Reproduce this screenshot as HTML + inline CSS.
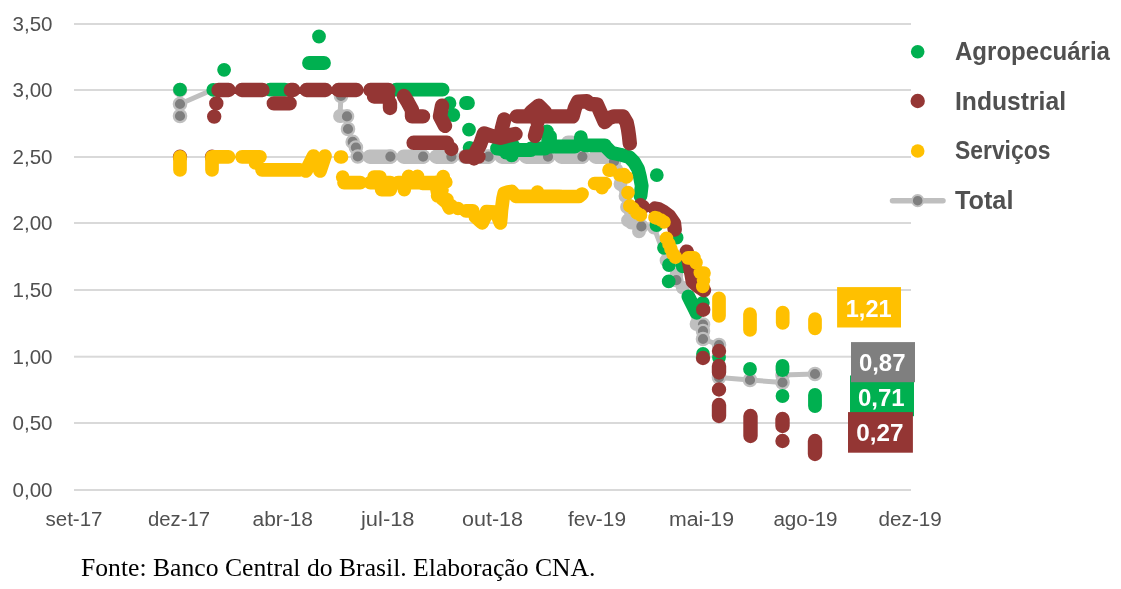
<!DOCTYPE html>
<html lang="pt"><head><meta charset="utf-8"><title>Gráfico</title>
<style>html,body{margin:0;padding:0;background:#fff}svg{display:block}</style></head>
<body><svg width="1121" height="589" viewBox="0 0 1121 589">
<rect width="1121" height="589" fill="#fff"/>
<rect x="74" y="489.0" width="837" height="2" fill="#D9D9D9"/>
<rect x="74" y="422.0" width="837" height="2" fill="#D9D9D9"/>
<rect x="74" y="355.7" width="837" height="2" fill="#D9D9D9"/>
<rect x="74" y="289.0" width="837" height="2" fill="#D9D9D9"/>
<rect x="74" y="222.0" width="837" height="2" fill="#D9D9D9"/>
<rect x="74" y="156.0" width="837" height="2" fill="#D9D9D9"/>
<rect x="74" y="89.0" width="837" height="2" fill="#D9D9D9"/>
<rect x="74" y="23.0" width="837" height="2" fill="#D9D9D9"/>
<polyline points="180.0,90.0 180.0,116.0 180.0,104.0 212.0,90.0 341.0,90.0 341.0,96.0 340.0,116.0 347.0,116.0 348.0,129.0 352.7,141.9 355.9,147.5 357.8,156.5 610.0,156.7 614.0,161.5 618.0,184.0 623.5,195.0 628.0,220.4 631.4,222.6 641.4,226.4 654.0,227.7 666.5,260.4 676.4,275.0 676.4,280.2 682.7,287.7 696.0,324.0 703.0,324.5 703.0,339.0 719.0,345.0 719.0,377.5 750.0,380.0 782.5,382.5 782.5,375.0 815.0,374.0" fill="none" stroke="#BFBFBF" stroke-width="5" stroke-linecap="round" stroke-linejoin="round"/>
<path d="M369.8 156.7H390.4M403.7 156.7H423.1M436.4 156.7H451.4M464.7 156.7H488.5M501.8 156.7H513.0M526.3 156.7H548.0M561.3 156.7H582.4M595.7 156.7H610.0" fill="none" stroke="#BFBFBF" stroke-width="14.4" stroke-linecap="round" stroke-linejoin="round"/>
<path d="M568.0 142.5H572.0M340.0 116.0H341.0M616.5 170.0h0M620.5 184.0h0M625.5 196.0h0M627.0 207.0h0M628.0 220.4h0M631.4 222.6h0M639.0 231.4h0M654.0 227.7h0M666.5 260.4h0M676.4 275.0h0M682.7 287.7h0M696.5 324.0h0" fill="none" stroke="#BFBFBF" stroke-width="13.8" stroke-linecap="round" stroke-linejoin="round"/>
<circle cx="180.0" cy="90.0" r="6.2" fill="#7F7F7F" stroke="#BFBFBF" stroke-width="2.2"/>
<circle cx="180.0" cy="116.0" r="6.2" fill="#7F7F7F" stroke="#BFBFBF" stroke-width="2.2"/>
<circle cx="180.0" cy="104.0" r="6.2" fill="#7F7F7F" stroke="#BFBFBF" stroke-width="2.2"/>
<circle cx="341.0" cy="96.0" r="6.2" fill="#7F7F7F" stroke="#BFBFBF" stroke-width="2.2"/>
<circle cx="347.0" cy="116.4" r="6.2" fill="#7F7F7F" stroke="#BFBFBF" stroke-width="2.2"/>
<circle cx="348.0" cy="129.0" r="6.2" fill="#7F7F7F" stroke="#BFBFBF" stroke-width="2.2"/>
<circle cx="352.7" cy="141.9" r="6.2" fill="#7F7F7F" stroke="#BFBFBF" stroke-width="2.2"/>
<circle cx="355.9" cy="147.5" r="6.2" fill="#7F7F7F" stroke="#BFBFBF" stroke-width="2.2"/>
<circle cx="357.8" cy="156.5" r="6.2" fill="#7F7F7F" stroke="#BFBFBF" stroke-width="2.2"/>
<circle cx="390.4" cy="156.6" r="6.2" fill="#7F7F7F" stroke="#BFBFBF" stroke-width="2.2"/>
<circle cx="423.1" cy="156.6" r="6.2" fill="#7F7F7F" stroke="#BFBFBF" stroke-width="2.2"/>
<circle cx="451.4" cy="156.6" r="6.2" fill="#7F7F7F" stroke="#BFBFBF" stroke-width="2.2"/>
<circle cx="488.5" cy="156.6" r="6.2" fill="#7F7F7F" stroke="#BFBFBF" stroke-width="2.2"/>
<circle cx="513.0" cy="156.6" r="6.2" fill="#7F7F7F" stroke="#BFBFBF" stroke-width="2.2"/>
<circle cx="548.0" cy="156.6" r="6.2" fill="#7F7F7F" stroke="#BFBFBF" stroke-width="2.2"/>
<circle cx="582.4" cy="156.6" r="6.2" fill="#7F7F7F" stroke="#BFBFBF" stroke-width="2.2"/>
<circle cx="614.0" cy="161.5" r="6.2" fill="#7F7F7F" stroke="#BFBFBF" stroke-width="2.2"/>
<circle cx="641.4" cy="226.4" r="6.2" fill="#7F7F7F" stroke="#BFBFBF" stroke-width="2.2"/>
<circle cx="676.4" cy="280.2" r="6.2" fill="#7F7F7F" stroke="#BFBFBF" stroke-width="2.2"/>
<circle cx="703.0" cy="324.5" r="6.2" fill="#7F7F7F" stroke="#BFBFBF" stroke-width="2.2"/>
<circle cx="703.0" cy="331.0" r="6.2" fill="#7F7F7F" stroke="#BFBFBF" stroke-width="2.2"/>
<circle cx="703.0" cy="339.0" r="6.2" fill="#7F7F7F" stroke="#BFBFBF" stroke-width="2.2"/>
<circle cx="719.0" cy="345.0" r="6.2" fill="#7F7F7F" stroke="#BFBFBF" stroke-width="2.2"/>
<circle cx="719.0" cy="377.5" r="6.2" fill="#7F7F7F" stroke="#BFBFBF" stroke-width="2.2"/>
<circle cx="750.0" cy="380.0" r="6.2" fill="#7F7F7F" stroke="#BFBFBF" stroke-width="2.2"/>
<circle cx="782.5" cy="375.0" r="6.2" fill="#7F7F7F" stroke="#BFBFBF" stroke-width="2.2"/>
<circle cx="782.5" cy="382.5" r="6.2" fill="#7F7F7F" stroke="#BFBFBF" stroke-width="2.2"/>
<circle cx="815.0" cy="374.0" r="6.2" fill="#7F7F7F" stroke="#BFBFBF" stroke-width="2.2"/>
<path d="M180.0 89.7h0M213.3 89.9h0M224.1 69.8h0M319.0 36.5h0M270.0 89.7H285.0M309.0 63.0H324.0M396.0 89.7H442.6M449.5 103.2h0M466.0 103.0H468.0M453.3 115.0h0M469.0 129.6h0M469.6 147.8h0M497.0 148.5H503.0M500.4 149.0h0M506.0 152.5h0M511.7 155.4h0M513.0 145.3h0M518.0 150.0H531.0M531.0 148.5H545.0M547.0 131.5h0M548.2 139.0V146.5M550.0 146.5H575.0M550.0 136.5V145.3M580.8 137.1V144.0M585.0 145.3H605.0M605.0 146.0L611.6 152.8L620.4 154.7L629.2 157.2L634.0 162.0L638.0 168.9L640.0 177.0L641.7 185.8L640.5 195.9M656.8 175.1h0M656.5 225.0h0M676.6 237.7h0M664.0 247.8h0M669.0 265.0h0M682.7 266.3h0M668.7 281.4h0M688.4 296.5L691.5 302.8L696.6 312.8M702.8 302.8h0M699.0 307.0h0M703.0 354.0h0M719.0 357.5h0M750.0 369.0h0M782.5 366.0V370.0M782.5 396.0h0M815.0 395.0V406.0" fill="none" stroke="#00B050" stroke-width="13.8" stroke-linecap="round" stroke-linejoin="round"/>
<path d="M180.0 156.8h0M212.0 156.8h0M214.2 116.6h0M216.3 103.4h0M218.5 90.0H228.6M241.8 90.0H262.5M273.8 103.4H289.6M290.8 90.0H293.3M306.5 90.0H325.4M338.4 90.0H356.4M370.4 90.0H388.5M374.0 96.5H388.0M390.0 103.0V108.0M404.0 96.0L408.0 102.6L412.0 110.0L412.0 116.4L423.0 116.4M413.6 142.8H447.0M442.0 105.7L440.0 116.4L445.0 125.8M451.4 149.0h0M466.0 156.6H478.5M474.0 158.5h0M476.0 152.0L480.3 144.0L484.0 133.4L492.0 136.0L500.4 137.8M500.4 137.8L502.0 128.0L504.2 119.5M500.4 137.8L507.0 136.0L515.5 134.0M516.8 116.4H572.6M531.0 112.0L538.8 105.7L545.0 112.0M536.9 129.0L535.0 135.9M537.5 122.0h0M572.6 116.4L575.0 107.6L578.0 101.6L587.0 101.3L590.0 104.0L597.0 104.5L600.0 111.4L604.7 122.0L609.0 118.0L614.0 116.4L623.0 116.4L626.7 122.7L628.0 129.0L629.0 136.0L629.8 143.4M640.5 205.3h0M643.0 207.0h0M655.0 208.5L658.0 209.0L663.0 211.6L669.0 216.0L674.0 223.3L674.7 229.6M686.7 251.6L689.0 262.0L691.5 273.9L692.8 281.4L698.0 286.0L704.0 290.2M703.2 309.7h0M703.0 358.0h0M719.0 351.0h0M719.0 366.0V372.5M719.0 389.5h0M719.0 405.0V416.0M750.5 416.0V436.0M782.5 419.0V426.0M782.5 441.0h0M815.0 441.0V454.0" fill="none" stroke="#943634" stroke-width="14.4" stroke-linecap="round" stroke-linejoin="round"/>
<path d="M180.0 156.8V170.0M212.0 156.8V170.0M212.0 156.8H228.5M242.0 156.8H260.0M255.5 163.0h0M262.0 169.8H300.0M306.0 171.0L313.5 156.0M320.0 171.0L325.0 156.0M340.5 157.0H341.5M342.7 177.0h0M344.0 182.7H360.3M374.0 177.0H380.0M370.3 182.7H390.4M381.6 189.6H390.4M408.7 176.4h0M417.5 176.4h0M398.0 182.7H435.7M404.3 189.6h0M443.2 176.6h0M435.7 182.7L438.2 195.3L447.0 202.8L449.5 207.9M422.5 183.5H432.6M445.8 182.0h0M437.6 195.8h0M442.0 190.0h0M447.0 199.6h0M451.4 205.9h0M458.0 208.5h0M465.9 210.9H472.8M475.3 216.6L479.0 220.0L482.2 222.8L485.0 217.0L486.6 211.5L495.4 212.2L498.0 217.0L500.4 222.8L501.0 216.6L501.5 210.0L502.3 204.0L503.0 198.5L504.2 193.3L508.0 192.0L511.7 191.4L516.0 196.4M516.0 196.4H559.5M537.5 192.0h0M561.3 196.5H579.0M579.0 196.5L582.0 194.0M594.6 183.5H605.3M602.0 187.7h0M609.0 170.1H610.5M620.0 175.0h0M624.0 174.5h0M626.5 177.0h0M628.0 192.7h0M629.8 205.9h0M633.0 208.5h0M637.0 213.0h0M640.5 215.0h0M655.0 217.5h0M657.0 218.2h0M661.0 220.0h0M664.0 222.0h0M666.5 238.4h0M669.0 244.0h0M671.0 249.0h0M673.0 253.8h0M675.4 257.2h0M688.0 257.8H694.0M696.0 262.6h0M700.3 272.6h0M704.0 273.0h0M703.5 280.0h0M702.8 286.4h0M719.0 298.4V316.0M750.0 314.0V330.0M782.7 312.6V323.0M815.0 319.0V328.3" fill="none" stroke="#FFC000" stroke-width="13.7" stroke-linecap="round" stroke-linejoin="round"/>
<rect x="837.1" y="287.1" width="63.89999999999998" height="40.39999999999998" fill="#FFC000"/><text x="845.8" y="316.5" font-family="Liberation Sans, sans-serif" font-weight="bold" font-size="23.6" fill="#fff" textLength="45.700000000000045" lengthAdjust="spacingAndGlyphs">1,21</text>
<rect x="850" y="375.5" width="64" height="40.69999999999999" fill="#00B050"/><text x="858" y="405.7" font-family="Liberation Sans, sans-serif" font-weight="bold" font-size="23.6" fill="#fff" textLength="46.700000000000045" lengthAdjust="spacingAndGlyphs">0,71</text>
<rect x="851" y="342.1" width="64" height="40.099999999999966" fill="#7F7F7F"/><text x="858.9" y="370.8" font-family="Liberation Sans, sans-serif" font-weight="bold" font-size="23.6" fill="#fff" textLength="46.60000000000002" lengthAdjust="spacingAndGlyphs">0,87</text>
<rect x="848" y="412.1" width="64.89999999999998" height="40.599999999999966" fill="#943634"/><text x="856.3" y="441.3" font-family="Liberation Sans, sans-serif" font-weight="bold" font-size="23.6" fill="#fff" textLength="47.200000000000045" lengthAdjust="spacingAndGlyphs">0,27</text>
<text x="12.5" y="496.8" text-anchor="start" font-family="Liberation Sans, sans-serif" font-size="20.6" font-weight="normal" fill="#505050" textLength="40" lengthAdjust="spacingAndGlyphs">0,00</text>
<text x="12.5" y="429.8" text-anchor="start" font-family="Liberation Sans, sans-serif" font-size="20.6" font-weight="normal" fill="#505050" textLength="40" lengthAdjust="spacingAndGlyphs">0,50</text>
<text x="12.5" y="363.5" text-anchor="start" font-family="Liberation Sans, sans-serif" font-size="20.6" font-weight="normal" fill="#505050" textLength="40" lengthAdjust="spacingAndGlyphs">1,00</text>
<text x="12.5" y="296.8" text-anchor="start" font-family="Liberation Sans, sans-serif" font-size="20.6" font-weight="normal" fill="#505050" textLength="40" lengthAdjust="spacingAndGlyphs">1,50</text>
<text x="12.5" y="229.8" text-anchor="start" font-family="Liberation Sans, sans-serif" font-size="20.6" font-weight="normal" fill="#505050" textLength="40" lengthAdjust="spacingAndGlyphs">2,00</text>
<text x="12.5" y="163.8" text-anchor="start" font-family="Liberation Sans, sans-serif" font-size="20.6" font-weight="normal" fill="#505050" textLength="40" lengthAdjust="spacingAndGlyphs">2,50</text>
<text x="12.5" y="96.8" text-anchor="start" font-family="Liberation Sans, sans-serif" font-size="20.6" font-weight="normal" fill="#505050" textLength="40" lengthAdjust="spacingAndGlyphs">3,00</text>
<text x="12.5" y="30.8" text-anchor="start" font-family="Liberation Sans, sans-serif" font-size="20.6" font-weight="normal" fill="#505050" textLength="40" lengthAdjust="spacingAndGlyphs">3,50</text>
<text x="45.5" y="526" text-anchor="start" font-family="Liberation Sans, sans-serif" font-size="20" font-weight="normal" fill="#505050" textLength="57.0" lengthAdjust="spacingAndGlyphs">set-17</text>
<text x="148" y="526" text-anchor="start" font-family="Liberation Sans, sans-serif" font-size="20" font-weight="normal" fill="#505050" textLength="62.0" lengthAdjust="spacingAndGlyphs">dez-17</text>
<text x="252.5" y="526" text-anchor="start" font-family="Liberation Sans, sans-serif" font-size="20" font-weight="normal" fill="#505050" textLength="60.5" lengthAdjust="spacingAndGlyphs">abr-18</text>
<text x="361" y="526" text-anchor="start" font-family="Liberation Sans, sans-serif" font-size="20" font-weight="normal" fill="#505050" textLength="53.5" lengthAdjust="spacingAndGlyphs">jul-18</text>
<text x="462" y="526" text-anchor="start" font-family="Liberation Sans, sans-serif" font-size="20" font-weight="normal" fill="#505050" textLength="61.0" lengthAdjust="spacingAndGlyphs">out-18</text>
<text x="568" y="526" text-anchor="start" font-family="Liberation Sans, sans-serif" font-size="20" font-weight="normal" fill="#505050" textLength="58.0" lengthAdjust="spacingAndGlyphs">fev-19</text>
<text x="669" y="526" text-anchor="start" font-family="Liberation Sans, sans-serif" font-size="20" font-weight="normal" fill="#505050" textLength="65.0" lengthAdjust="spacingAndGlyphs">mai-19</text>
<text x="773.4" y="526" text-anchor="start" font-family="Liberation Sans, sans-serif" font-size="20" font-weight="normal" fill="#505050" textLength="64.2" lengthAdjust="spacingAndGlyphs">ago-19</text>
<text x="878.6" y="526" text-anchor="start" font-family="Liberation Sans, sans-serif" font-size="20" font-weight="normal" fill="#505050" textLength="63.2" lengthAdjust="spacingAndGlyphs">dez-19</text>
<circle cx="917.7" cy="51.8" r="6.8" fill="#00B050"/>
<circle cx="917.7" cy="101.0" r="7.2" fill="#943634"/>
<circle cx="917.7" cy="151.0" r="6.8" fill="#FFC000"/>
<line x1="892.5" y1="200.7" x2="943" y2="200.7" stroke="#BFBFBF" stroke-width="5.5" stroke-linecap="round"/>
<circle cx="917.7" cy="200.7" r="5.7" fill="#7F7F7F" stroke="#BFBFBF" stroke-width="1.8"/>
<text x="955" y="60.3" text-anchor="start" font-family="Liberation Sans, sans-serif" font-size="25" font-weight="bold" fill="#505050" textLength="155" lengthAdjust="spacingAndGlyphs">Agropecuária</text>
<text x="955" y="109.6" text-anchor="start" font-family="Liberation Sans, sans-serif" font-size="25" font-weight="bold" fill="#505050" textLength="111" lengthAdjust="spacingAndGlyphs">Industrial</text>
<text x="955" y="158.5" text-anchor="start" font-family="Liberation Sans, sans-serif" font-size="25" font-weight="bold" fill="#505050" textLength="95.4" lengthAdjust="spacingAndGlyphs">Serviços</text>
<text x="955" y="208.5" text-anchor="start" font-family="Liberation Sans, sans-serif" font-size="25" font-weight="bold" fill="#505050" textLength="58.4" lengthAdjust="spacingAndGlyphs">Total</text>
<text x="81" y="575.75" text-anchor="start" font-family="Liberation Serif, serif" font-size="24.5" font-weight="normal" fill="#000" textLength="514.5" lengthAdjust="spacingAndGlyphs">Fonte: Banco Central do Brasil. Elaboração CNA.</text>
</svg></body></html>
